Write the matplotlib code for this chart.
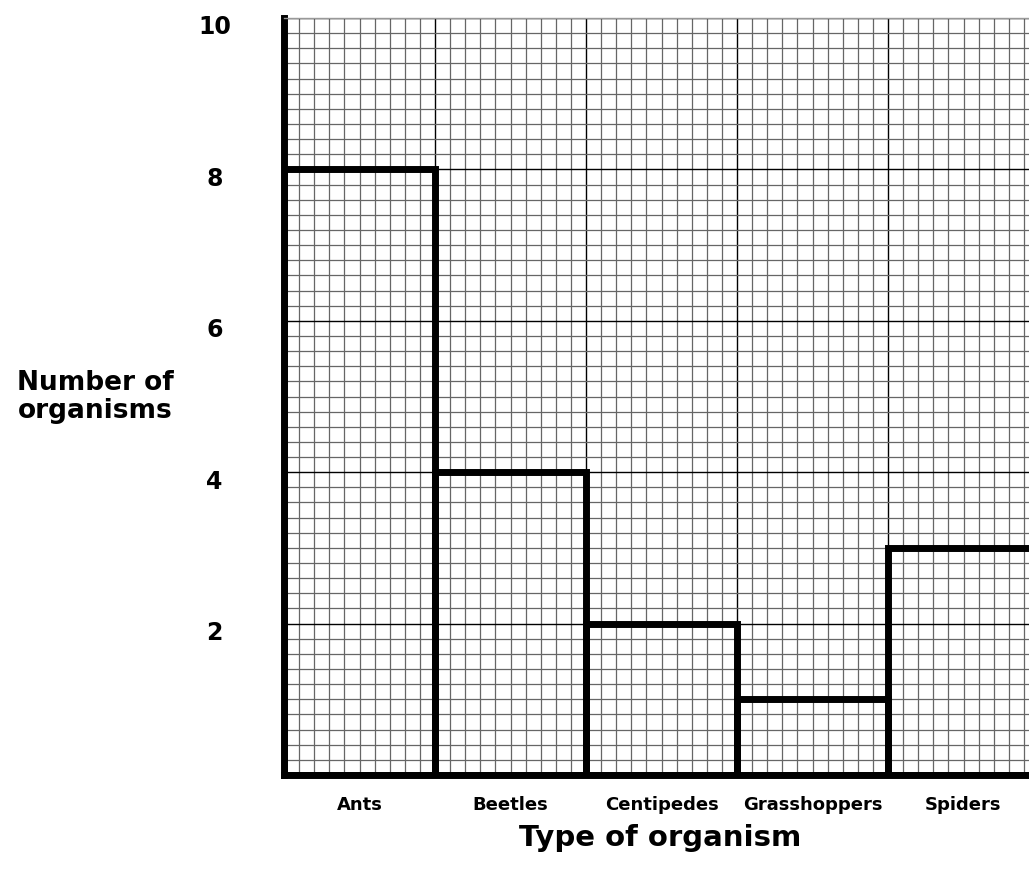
import matplotlib.pyplot as plt
import matplotlib.transforms as mtransforms
import numpy as np

# Data
organisms = ['Ants', 'Beetles', 'Centipedes', 'Grasshoppers', 'Spiders']
counts = [8, 4, 2, 1, 3]
y_ticks = [2, 4, 6, 8, 10]

plt.rcParams['font.family'] = ['DejaVu Sans']

fig = plt.figure(figsize=(10.29, 8.91), dpi=100)
W, H = 1029, 891
ax = fig.add_axes([284 / W, (H - 775) / H, (1029 - 284) / W, (775 - 18) / H])

x = np.arange(len(organisms))
ax.bar(x, counts, width=1.0, align='edge', fill=False, edgecolor='black',
       linewidth=5, zorder=3)

# graph paper grid
ax.set_xticks(np.arange(0, 5, 1.0))
ax.set_xticks(np.arange(0, 5, 0.1), minor=True)
ax.set_yticks(y_ticks)
ax.set_yticks(np.arange(0, 10.01, 0.2), minor=True)
ax.grid(which='minor', color='#666666', linewidth=0.9, zorder=1)
ax.grid(which='major', color='black', linewidth=1.0, zorder=2)
ax.set_axisbelow(True)

ax.set_xlim(0, (1029 - 284) / 151)
ax.set_ylim(0, 10)

ax.set_xticklabels([])
ax.set_yticklabels([str(t) for t in y_ticks], fontsize=17, fontweight='bold',
                   ha='center')
ax.tick_params(axis='both', which='both', length=0)
ax.tick_params(axis='y', pad=50)
offset = mtransforms.ScaledTranslation(0, -7 / 100, fig.dpi_scale_trans)
for lbl in ax.get_yticklabels():
    lbl.set_transform(lbl.get_transform() + offset)

for i, name in enumerate(organisms):
    ax.text(i + 0.5, -0.4, name, ha='center', va='center', fontsize=13,
            fontweight='bold', transform=ax.transData, clip_on=False)

ax.spines['left'].set_linewidth(5)
ax.spines['bottom'].set_linewidth(5)
ax.spines['top'].set_color('#999999')
ax.spines['top'].set_linewidth(1)
ax.spines['right'].set_visible(False)

fig.text(95 / W, 1 - 397 / H, 'Number of\norganisms', ha='center', va='center',
         fontsize=19, fontweight='bold', linespacing=1.1)
fig.text(660 / W, 1 - 838 / H, 'Type of organism', ha='center', va='center',
         fontsize=21, fontweight='bold')

plt.savefig('out.png', dpi=100)
